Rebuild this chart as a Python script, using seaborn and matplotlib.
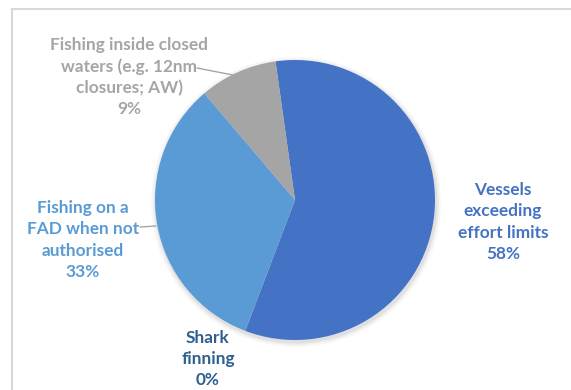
import matplotlib
matplotlib.use("Agg")
import matplotlib.pyplot as plt
import seaborn as sns
from matplotlib.patches import Circle

sns.set_theme(style="white")
plt.rcParams['font.family'] = ['Lato', 'DejaVu Sans']

# slice data, clockwise from the top
labels = ["Vessels\nexceeding\neffort limits", "Shark\nfinning",
          "Fishing on a\nFAD when not\nauthorised",
          "Fishing inside closed\nwaters (e.g. 12nm\nclosures; AW)"]
values = [58, 0, 33, 9]
slice_colors = ["#4472C4", "#255E91", "#5B9BD5", "#A5A5A5"]
text_colors = ["#4472C4", "#2E5F8F", "#5B9BD5", "#A5A5A5"]

W, H = 571, 390
fig = plt.figure(figsize=(W / 100, H / 100), dpi=100)
ax = fig.add_axes([0, 0, 1, 1])

# chart frame (light grey, runs off the right/bottom edge)
fig.add_artist(plt.Line2D([12 / W, 12 / W], [0, 1 - 9 / H], color="#D9D9D9", lw=1.5))
fig.add_artist(plt.Line2D([12 / W, 1], [1 - 9 / H, 1 - 9 / H], color="#D9D9D9", lw=1.5))

cx, cy, r = 295, 190, 140
# soft shadow
for k, a in [(5, 0.03), (3, 0.04), (1.5, 0.05)]:
    ax.add_patch(Circle((cx + 1, cy - 2), r + k, color="black", alpha=a, lw=0))

ax.pie(values, colors=slice_colors, startangle=98, counterclock=False,
       center=(cx, cy), radius=r, wedgeprops=dict(linewidth=0))

pcts = [f"{v}%" for v in values]
positions = [(503, 390 - 222), (208, 390 - 359), (83, 390 - 240), (129, 390 - 77)]
for lab, p, col, (x, y) in zip(labels, pcts, text_colors, positions):
    ax.text(x, y, lab + "\n" + p, ha="center", va="center", color=col,
            fontsize=12.4, fontweight="bold", linespacing=1.4)

# leader lines
ax.plot([197, 238], [390 - 68, 390 - 76], color="#A5A5A5", lw=1)
ax.plot([140, 156], [390 - 227, 390 - 226], color="#A5A5A5", lw=1)

ax.set_xlim(0, W)
ax.set_ylim(0, H)
ax.set_aspect("equal")
ax.axis("off")

fig.savefig("out.png", dpi=100)
